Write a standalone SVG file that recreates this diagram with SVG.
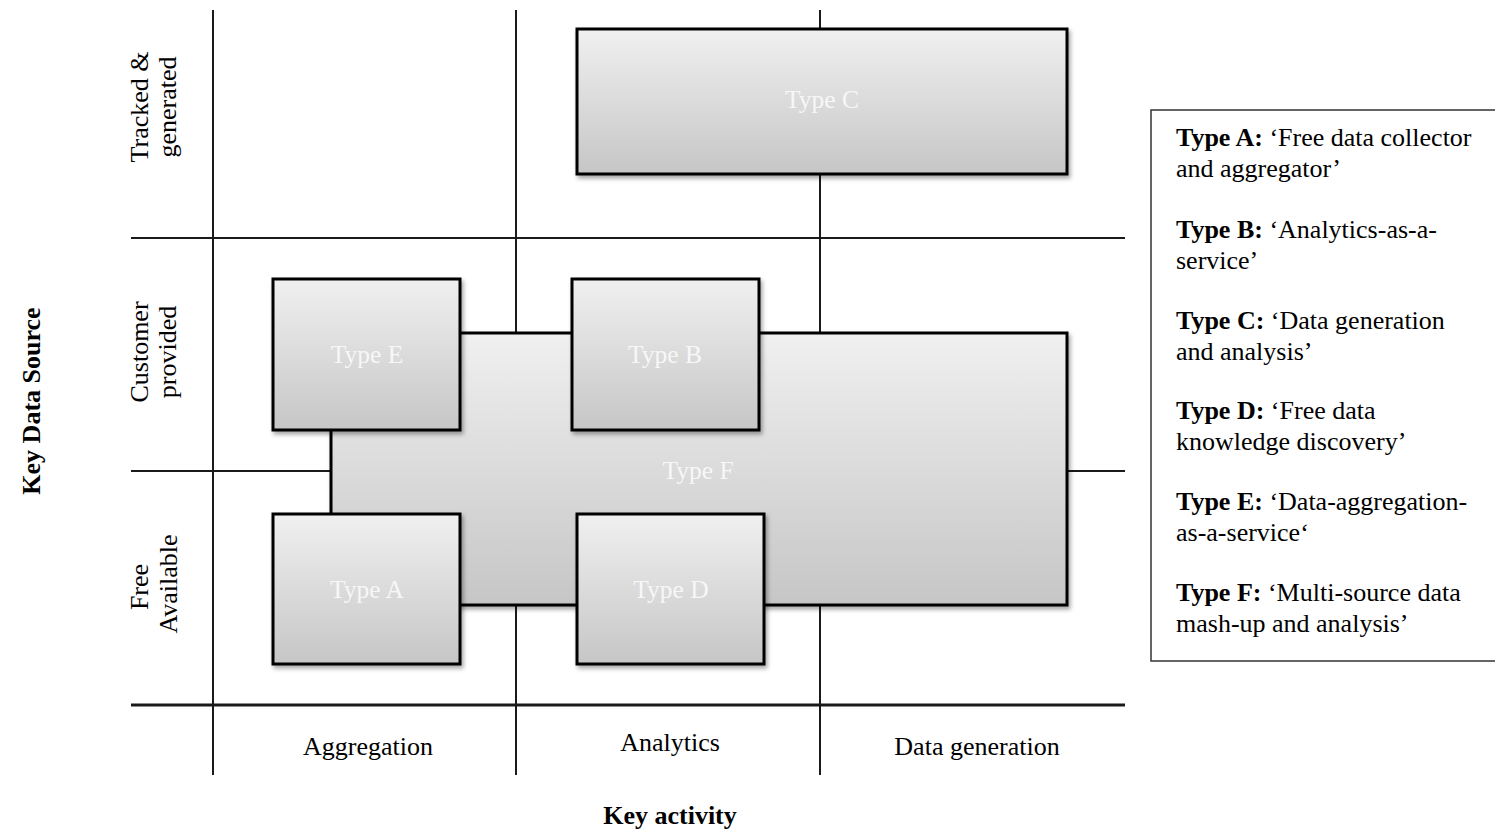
<svg xmlns="http://www.w3.org/2000/svg" width="1495" height="833" viewBox="0 0 1495 833">
<style>
.grid{stroke:#1a1a1a;stroke-width:2;fill:none}
.box{fill:url(#g);stroke:#000;stroke-width:3;filter:url(#sh)}
.bl{font-family:"Liberation Serif","Times New Roman",serif;font-size:25.5px;fill:#f7f7f7;text-anchor:middle}
.ax{font-family:"Liberation Serif","Times New Roman",serif;font-size:26px;fill:#000;text-anchor:middle}
.axb{font-family:"Liberation Serif","Times New Roman",serif;font-size:26px;font-weight:bold;fill:#000;text-anchor:middle}
.lg{font-family:"Liberation Serif","Times New Roman",serif;font-size:26px;fill:#000}
.lg tspan.b{font-weight:bold}
</style>
<defs>
<linearGradient id="g" x1="0" y1="0" x2="0" y2="1">
<stop offset="0" stop-color="#f0f0f0"/>
<stop offset="1" stop-color="#c6c6c6"/>
</linearGradient>
<filter id="sh" x="-10%" y="-10%" width="130%" height="130%">
<feDropShadow dx="2" dy="3" stdDeviation="2" flood-color="#000" flood-opacity="0.35"/>
</filter>
</defs>
<rect width="1495" height="833" fill="#fff"/>
<g id="connectors">
<line class="grid" x1="213" y1="10" x2="213" y2="775"/>
<line class="grid" x1="516" y1="10" x2="516" y2="775"/>
<line class="grid" x1="820" y1="10" x2="820" y2="775"/>
<line class="grid" x1="131" y1="238" x2="1125" y2="238"/>
<line class="grid" x1="131" y1="471" x2="1125" y2="471"/>
<line class="grid" x1="131" y1="705" x2="1125" y2="705" style="stroke-width:3"/>
</g>
<g id="typeC"><rect class="box" x="577" y="29" width="490" height="145"/><text class="bl" x="822" y="108">Type C</text></g>
<g id="typeF"><rect class="box" x="331" y="333" width="736" height="272"/><text class="bl" x="698" y="479">Type F</text></g>
<g id="typeE"><rect class="box" x="273" y="279" width="187" height="151"/><text class="bl" x="367" y="363">Type E</text></g>
<g id="typeB"><rect class="box" x="572" y="279" width="187" height="151"/><text class="bl" x="665" y="363">Type B</text></g>
<g id="typeA"><rect class="box" x="273" y="514" width="187" height="150"/><text class="bl" x="367" y="598">Type A</text></g>
<g id="typeD"><rect class="box" x="577" y="514" width="187" height="150"/><text class="bl" x="671" y="598">Type D</text></g>
<g id="rowlabels">
<text class="ax" transform="translate(148,107) rotate(-90)">Tracked &amp;</text>
<text class="ax" transform="translate(176,107) rotate(-90)">generated</text>
<text class="ax" transform="translate(148,352) rotate(-90)">Customer</text>
<text class="ax" transform="translate(176,352) rotate(-90)">provided</text>
<text class="ax" transform="translate(148,587) rotate(-90)">Free</text>
<text class="ax" transform="translate(177,584) rotate(-90)">Available</text>
<text class="axb" transform="translate(40,401) rotate(-90)">Key Data Source</text>
</g>
<g id="collabels">
<text class="ax" x="368" y="755">Aggregation</text>
<text class="ax" x="670" y="751">Analytics</text>
<text class="ax" x="977" y="755">Data generation</text>
<text class="axb" x="670" y="824">Key activity</text>
</g>
<g id="legend">
<rect x="1151" y="110" width="360" height="551" fill="#fff" stroke="#333" stroke-width="1.5"/>
<text class="lg" x="1176" y="146"><tspan class="b">Type A:</tspan> ‘Free data collector</text>
<text class="lg" x="1176" y="177">and aggregator’</text>
<text class="lg" x="1176" y="238"><tspan class="b">Type B:</tspan> ‘Analytics-as-a-</text>
<text class="lg" x="1176" y="269">service’</text>
<text class="lg" x="1176" y="329"><tspan class="b">Type C:</tspan> ‘Data generation</text>
<text class="lg" x="1176" y="360">and analysis’</text>
<text class="lg" x="1176" y="419"><tspan class="b">Type D:</tspan> ‘Free data</text>
<text class="lg" x="1176" y="450">knowledge discovery’</text>
<text class="lg" x="1176" y="510"><tspan class="b">Type E:</tspan> ‘Data-aggregation-</text>
<text class="lg" x="1176" y="541">as-a-service‘</text>
<text class="lg" x="1176" y="601"><tspan class="b">Type F:</tspan> ‘Multi-source data</text>
<text class="lg" x="1176" y="632">mash-up and analysis’</text>
</g>
</svg>
